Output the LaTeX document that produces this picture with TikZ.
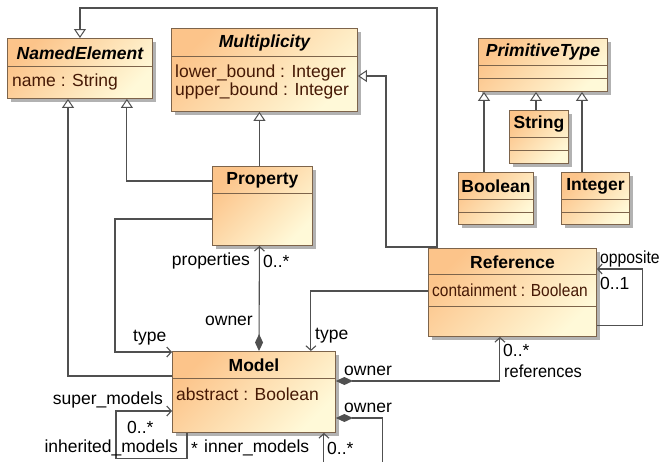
\documentclass[tikz,border=0pt]{standalone}
\usepackage{fontspec}
\setmainfont{Liberation Sans}
\usetikzlibrary{arrows.meta,calc,shadows}
\definecolor{clsorange}{RGB}{252,196,138}
\definecolor{clslight}{RGB}{255,249,216}
\definecolor{clsedge}{RGB}{125,100,75}
\definecolor{attrtext}{RGB}{70,25,5}
\definecolor{linegray}{RGB}{80,80,80}
\tikzset{
  cls/.style={draw=clsedge, line width=0.9pt, anchor=north west, inner sep=0pt,
    left color=clsorange, right color=clslight, shading angle=45,
    drop shadow={shadow xshift=4pt, shadow yshift=-4pt, fill=black!30, opacity=1}},
  sep/.style={draw=clsedge, line width=0.9pt},
  title/.style={inner sep=0pt, font=\fontsize{17.5}{18}\selectfont\bfseries},
  abst/.style={inner sep=0pt, font=\fontsize{17.5}{18}\selectfont\bfseries\itshape},
  attr/.style={anchor=west, inner sep=0pt, align=left, text=attrtext},
  lbl/.style={inner sep=0pt},
  conn/.style={draw=linegray, line width=1.1pt},
  gen/.style={conn, -{Triangle[length=9pt, width=12pt, fill=white, line width=1pt]}},
  assoc/.style={conn, -{Straight Barb[length=4.5pt, width=10pt]}},
  comp/.style={conn, {Diamond[length=17pt, width=8pt]}-{Straight Barb[length=4.5pt, width=10pt]}}
}
\begin{document}
\begin{tikzpicture}[x=1pt, y=-1pt, font=\fontsize{17.5}{18}\selectfont]
    \useasboundingbox (0,0) rectangle (662,461);
    % classes
    \node[cls, minimum width=145pt, minimum height=60pt] (named) at (7,38) {};
    \draw[sep] ($(named.north west)+(0,28)$) -- ($(named.north east)+(0,28)$);
    \node[abst] (namedT) at ($(named.north)+(0,15)$) {NamedElement};
    \node[attr] (namedA) at ($(named.north west)+(5,44)$) {name : String};

    \node[cls, minimum width=186pt, minimum height=83pt] (mult) at (171,28) {};
    \draw[sep] ($(mult.north west)+(0,28)$) -- ($(mult.north east)+(0,28)$);
    \node[abst] (multT) at ($(mult.north)+(0,15)$) {Multiplicity};
    \node[attr] (multA) at ($(mult.north west)+(4,54)$) {lower\_bound : Integer\\upper\_bound : Integer};

    \node[cls, minimum width=129pt, minimum height=53pt] (prim) at (478,38) {};
    \draw[sep] ($(prim.north west)+(0,27)$) -- ($(prim.north east)+(0,27)$);
    \draw[sep] ($(prim.north west)+(0,40)$) -- ($(prim.north east)+(0,40)$);
    \node[abst] (primT) at ($(prim.north)+(0,14)$) {PrimitiveType};

    \node[cls, minimum width=59pt, minimum height=53pt] (str) at (509,110) {};
    \draw[sep] ($(str.north west)+(0,27)$) -- ($(str.north east)+(0,27)$);
    \draw[sep] ($(str.north west)+(0,40)$) -- ($(str.north east)+(0,40)$);
    \node[title] (strT) at ($(str.north)+(0,14)$) {String};

    \node[cls, minimum width=75pt, minimum height=52pt] (bool) at (458,172) {};
    \draw[sep] ($(bool.north west)+(0,27)$) -- ($(bool.north east)+(0,27)$);
    \draw[sep] ($(bool.north west)+(0,40)$) -- ($(bool.north east)+(0,40)$);
    \node[title] (boolT) at ($(bool.north)+(0,14)$) {Boolean};

    \node[cls, minimum width=68pt, minimum height=52pt] (integ) at (561,172) {};
    \draw[sep] ($(integ.north west)+(0,27)$) -- ($(integ.north east)+(0,27)$);
    \draw[sep] ($(integ.north west)+(0,40)$) -- ($(integ.north east)+(0,40)$);
    \node[title] (integT) at ($(integ.north)+(0,14)$) {Integer};

    \node[cls, minimum width=100pt, minimum height=79pt] (prop) at (212,166) {};
    \draw[sep] ($(prop.north west)+(0,27)$) -- ($(prop.north east)+(0,27)$);
    \node[title] (propT) at ($(prop.north)+(0,14)$) {Property};

    \node[cls, minimum width=168pt, minimum height=88pt] (ref) at (428,248) {};
    \draw[sep] ($(ref.north west)+(0,26)$) -- ($(ref.north east)+(0,26)$);
    \draw[sep] ($(ref.north west)+(0,58)$) -- ($(ref.north east)+(0,58)$);
    \node[title] (refT) at ($(ref.north)+(0,14)$) {Reference};
    \node[attr] (refA) at ($(ref.north west)+(4,42)$) {\scalebox{0.885}[1]{containment : Boolean}};

    \node[cls, minimum width=163pt, minimum height=81pt] (model) at (172,351) {};
    \draw[sep] ($(model.north west)+(0,27)$) -- ($(model.north east)+(0,27)$);
    \node[title] (modelT) at ($(model.north)+(0,14)$) {Model};
    \node[attr] (modelA) at ($(model.north west)+(4,43)$) {abstract : Boolean};

    % generalizations
    \draw[gen] ([xshift=9pt]ref.north west) -- ++(0,-240) -| (named.north);
    \draw[gen] ([xshift=9pt]ref.north west) -- ++(0,-1) -- ++(-51,0) |- ([yshift=-48pt]mult.north east);
    \draw[gen] ([xshift=-3pt]prop.north) -- ([xshift=-5pt]mult.south);
    \draw[gen] ([yshift=-15pt]prop.north west) -| ([xshift=-26pt]named.south east);
    \draw[gen] ([yshift=-25pt]model.north west) -| ([xshift=61pt]named.south west);
    \draw[gen] ([xshift=26pt]bool.north west) -- ([xshift=6pt]prim.south west);
    \draw[gen] ([xshift=27pt]str.north west) -- ([xshift=58pt]prim.south west);
    \draw[gen] ([xshift=21pt]integ.north west) -- ([xshift=104pt]prim.south west);

    % associations
    \draw[assoc] ([yshift=-53pt]prop.north west) -- ++(-97,0) |- ([yshift=-1pt]model.north west);
    \draw[assoc] ([yshift=-43pt]ref.north west) -| ([xshift=-25pt]model.north east);
    \draw[assoc] ([yshift=11pt]ref.south east) -- ++(46,0) |- ([yshift=-21pt]ref.north east);
    \draw[assoc] ([xshift=15pt]model.south west) -- ++(0,26) -- ++(-71,0) |- ([yshift=-60pt]model.north west);
    \draw[comp] ([xshift=87pt]model.north west) -- ([xshift=-3pt]prop.south);
    \draw[comp] ([yshift=-30pt]model.north east) -| ([xshift=-97pt]ref.south east);
    \draw[comp] ([yshift=-67pt]model.north east) -- ++(47,0) -- ++(0,60) -| ([xshift=-12pt]model.south east);

    % role names and multiplicities
    \node[lbl, anchor=east] (lProps) at (250,261) {properties};
    \node[lbl, anchor=west] (lPropsM) at (263,261) {0..*};
    \node[lbl, anchor=east] (lOwnerP) at (253,321) {owner};
    \node[lbl, anchor=west] (lTypeP) at (133,338) {type};
    \node[lbl, anchor=west] (lTypeR) at (315,336) {type};
    \node[lbl, anchor=west] (lOwnerR) at (344,371) {owner};
    \node[lbl, anchor=west] (lRefsM) at (503,350) {0..*};
    \node[lbl, anchor=west] (lRefs) at (504,371) {\scalebox{0.94}[1]{references}};
    \node[lbl, anchor=west] (lOpp) at (600,259) {\scalebox{0.9}[1]{opposite}};
    \node[lbl, anchor=west] (lOppM) at (600,283) {0..1};
    \node[lbl, anchor=east] (lSuper) at (163,400) {super\_models};
    \node[lbl, anchor=west] (lSuperM) at (127,427) {0..*};
    \node[lbl, anchor=east] (lInh) at (178,448) {inherited\_models};
    \node[lbl, anchor=west] (lInhM) at (191,448) {*};
    \node[lbl, anchor=west] (lInner) at (204,448) {inner\_models};
    \node[lbl, anchor=west] (lInnerM) at (327,448) {0..*};
    \node[lbl, anchor=west] (lOwnerM) at (344,408) {owner};
\end{tikzpicture}
\end{document}
